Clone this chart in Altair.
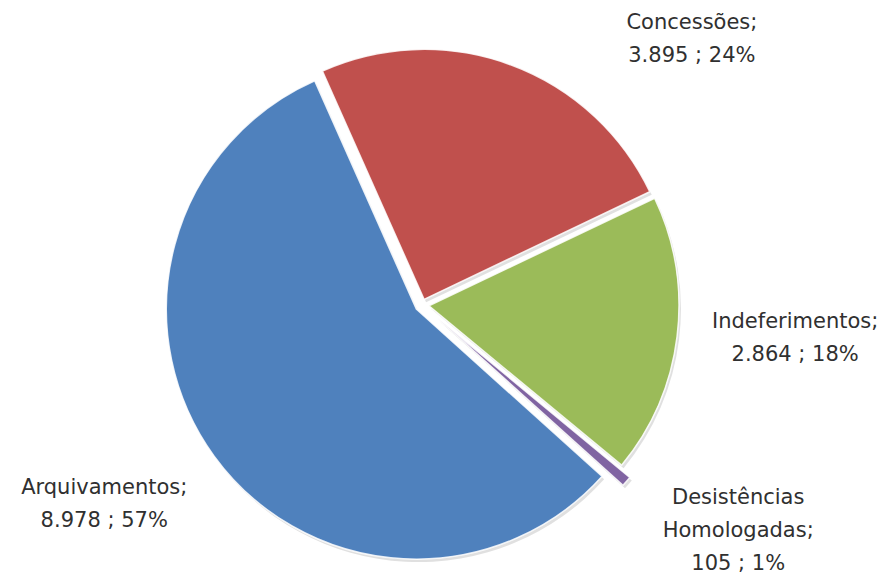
import math
import altair as alt
import pandas as pd

# ---- data ----
categories = ["Concessões", "Indeferimentos", "Desistências Homologadas", "Arquivamentos"]
label_names = ["Concessões;", "Indeferimentos;", "Desistências\nHomologadas;", "Arquivamentos;"]
values = [3895, 2864, 105, 8978]
value_texts = ["3.895", "2.864", "105", "8.978"]
percents = [24, 18, 1, 57]

# ---- styles ----
colors = ["#C0504D", "#9BBB59", "#8064A2", "#4F81BD"]
start_deg = -24.0
pie_r = 250
explode = {"Concessões": 6, "Indeferimentos": 7, "Desistências Homologadas": 20, "Arquivamentos": 7}
base_dx, base_dy = -24, 12
label_r = 378
line_h = 33
label_nudge = {
    "Concessões": (139, 89),
    "Indeferimentos": (-2, -13),
    "Desistências Homologadas": (30, -21),
    "Arquivamentos": (-12, -23),
}

total = sum(values)
df = pd.DataFrame({
    "category": categories,
    "value": values,
    "order": list(range(len(categories))),
    "label": [f"{n}\n{v} ; {p}%" for n, v, p in zip(label_names, value_texts, percents)],
})

start = math.radians(start_deg)
theta_scale = alt.Scale(domain=[0, total], range=[start, start + 2 * math.pi])

base = alt.Chart(df).transform_window(
    cum="sum(value)", sort=[alt.SortField("order")], frame=[None, 0]
).transform_calculate(
    t0="datum.cum - datum.value",
    tmid="datum.cum - datum.value / 2",
)

layers = []
cum = 0
mids = []
for v in values:
    mids.append(start + 2 * math.pi * (cum + v / 2) / total)
    cum += v

# shadows
for cat, mid in zip(categories, mids):
    ox = base_dx + explode[cat] * math.sin(mid)
    oy = base_dy - explode[cat] * math.cos(mid)
    layers.append(
        base.transform_filter(alt.datum.category == cat).mark_arc(
            radius=pie_r, xOffset=ox + 2, yOffset=oy + 3, opacity=0.12, color="#000000"
        ).encode(
            theta=alt.Theta("t0:Q", scale=theta_scale),
            theta2="cum:Q",
        )
    )

# slices
for cat, mid, col in zip(categories, mids, colors):
    ox = base_dx + explode[cat] * math.sin(mid)
    oy = base_dy - explode[cat] * math.cos(mid)
    layers.append(
        base.transform_filter(alt.datum.category == cat).mark_arc(
            radius=pie_r, xOffset=ox, yOffset=oy, stroke="#ffffff", strokeWidth=1.5,
            strokeOpacity=0.85, color=col
        ).encode(
            theta=alt.Theta("t0:Q", scale=theta_scale),
            theta2="cum:Q",
            tooltip=["category:N", "value:Q"],
        )
    )

# labels (Vega puts the first line at the anchor, so lift by half the block)
for cat, lbl in zip(categories, df["label"]):
    ndx, ndy = label_nudge[cat]
    n_lines = lbl.count("\n") + 1
    layers.append(
        base.transform_filter(alt.datum.category == cat).mark_text(
            radius=label_r, xOffset=base_dx, yOffset=base_dy, dx=ndx,
            dy=ndy - (n_lines - 1) * line_h / 2,
            lineBreak="\n", align="center", baseline="middle",
            font="DejaVu Sans", fontSize=21, lineHeight=line_h, color="#303030"
        ).encode(
            theta=alt.Theta("tmid:Q", scale=theta_scale),
            text="label:N",
        )
    )

chart = alt.layer(*layers).properties(
    width=876, height=570, autosize="none", padding=0
).configure_view(stroke=None).configure(background="#ffffff")

chart.save("out.html", embed_options={"renderer": "svg", "actions": False})
